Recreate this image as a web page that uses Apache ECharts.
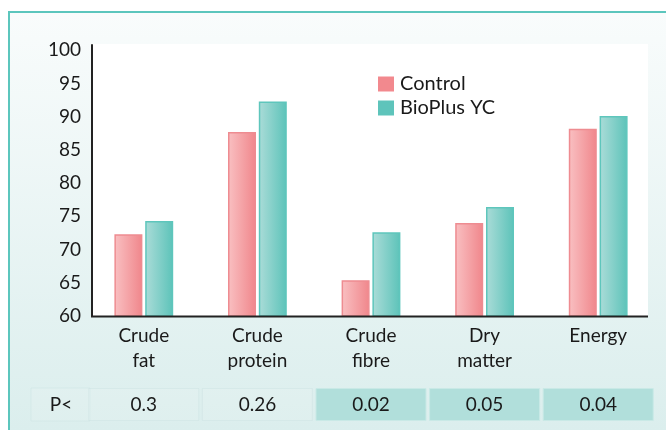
<!DOCTYPE html>
<html>
<head>
<meta charset="utf-8">
<script src="https://cdn.jsdelivr.net/npm/echarts@6/dist/echarts.min.js"></script>
<style>
html,body{margin:0;padding:0;background:#fff;}
#chart{width:666px;height:430px;}
</style>
</head>
<body>
<div id="chart"></div>
<script>
const categories = ['Crude\nfat', 'Crude\nprotein', 'Crude\nfibre', 'Dry\nmatter', 'Energy'];
const controlValues = [72.3, 87.7, 65.4, 74.0, 88.2];
const bioplusValues = [74.3, 92.3, 72.6, 76.4, 90.1];
const pValues = ['0.3', '0.26', '0.02', '0.05', '0.04'];
const pShaded = [false, false, true, true, true];
const seriesNames = ['Control', 'BioPlus YC'];
const yTicks = [60, 65, 70, 75, 80, 85, 90, 95, 100];

const FONT = 'Lato';
const TXT = '#1a1a1a';
const chart = echarts.init(document.getElementById('chart'), null, {renderer: 'canvas'});

function grad(c1, c2) {
  return new echarts.graphic.LinearGradient(0, 0, 1, 0, [
    {offset: 0, color: c1}, {offset: 1, color: c2}
  ]);
}

const option = {
  animation: false,
  textStyle: {fontFamily: FONT},
  graphic: [
    {type: 'rect', z: -10, silent: true,
     shape: {x: 8, y: 11, width: 658, height: 419},
     style: {fill: new echarts.graphic.LinearGradient(0, 0, 0, 1, [
       {offset: 0, color: '#f9fcfc'}, {offset: 1, color: '#dbeeed'}])}},
    {type: 'line', z: -9, silent: true,
     shape: {x1: 8, y1: 12, x2: 666, y2: 12},
     style: {stroke: '#5cc6bd', lineWidth: 2}},
    {type: 'line', z: -9, silent: true,
     shape: {x1: 9, y1: 11, x2: 9, y2: 430},
     style: {stroke: '#5cc6bd', lineWidth: 2}},
    {type: 'rect', z: -8, silent: true,
     shape: {x: 92, y: 44, width: 556, height: 272},
     style: {fill: '#ffffff'}},
    {type: 'line', z: 50, silent: true,
     shape: {x1: 91, y1: 316.5, x2: 648, y2: 316.5},
     style: {stroke: '#222', lineWidth: 2}},
    {type: 'rect', z: -5, silent: true,
     shape: {x: 31, y: 388, width: 59, height: 33},
     style: {fill: 'rgba(255,255,255,0.1)', stroke: 'rgba(205,228,227,0.5)', lineWidth: 1}},
    {type: 'text', z: 10, silent: true,
     style: {text: 'P<', x: 61, y: 405, align: 'center', verticalAlign: 'middle',
             font: '19px Lato', fill: TXT}}
  ],
  legend: {
    orient: 'vertical',
    left: 373, top: 69,
    itemWidth: 16, itemHeight: 15, itemGap: 4,
    icon: 'rect',
    textStyle: {fontFamily: FONT, fontSize: 20, color: TXT, padding: [0, 0, 0, 1]},
    data: [
      {name: seriesNames[0], itemStyle: {color: '#f2898e', borderWidth: 0}},
      {name: seriesNames[1], itemStyle: {color: '#5ec4bb', borderWidth: 0}}
    ]
  },
  grid: [
    {left: 87, right: 11, top: 45, bottom: 114, containLabel: false},
    {left: 87, right: 11, top: 388, height: 33, containLabel: false}
  ],
  xAxis: [
    {type: 'category', gridIndex: 0, data: categories,
     axisLine: {show: false}, axisTick: {show: false},
     axisLabel: {fontFamily: FONT, fontSize: 19, color: TXT, lineHeight: 25, margin: 7}},
    {type: 'category', gridIndex: 1, data: categories, show: false}
  ],
  yAxis: [
    {type: 'value', gridIndex: 0, min: 60, max: 100.8, interval: 5, offset: -5,
     splitLine: {show: false}, axisTick: {show: false},
     axisLine: {show: true, lineStyle: {color: '#222', width: 2}},
     axisLabel: {fontFamily: FONT, fontSize: 19, color: TXT, margin: 11,
       formatter: v => (yTicks.indexOf(v) >= 0 ? String(v) : '')}},
    {type: 'value', gridIndex: 1, min: 0, max: 1, show: false}
  ],
  series: [
    {name: seriesNames[0], type: 'bar', xAxisIndex: 0, yAxisIndex: 0,
     data: controlValues, barWidth: 28, barGap: '10%',
     itemStyle: {color: grad('#f9c0c2', '#f0868b'), borderColor: '#ee8c91', borderWidth: 1.5}},
    {name: seriesNames[1], type: 'bar', xAxisIndex: 0, yAxisIndex: 0,
     data: bioplusValues, barWidth: 28, barGap: '10%',
     itemStyle: {color: grad('#abdcd8', '#5cc3b9'), borderColor: '#5ec6bc', borderWidth: 1.5}},
    {name: 'P', type: 'bar', xAxisIndex: 1, yAxisIndex: 1,
     barWidth: 111, silent: true,
     data: pValues.map((p, i) => ({
       value: 1,
       itemStyle: pShaded[i]
         ? {color: '#b1dfdb', borderColor: '#c9e9e6', borderWidth: 1}
         : {color: 'rgba(255,255,255,0.1)', borderColor: 'rgba(205,228,227,0.5)', borderWidth: 1}
     })),
     label: {show: true, position: 'inside', fontFamily: FONT, fontSize: 19, color: TXT,
       formatter: p => pValues[p.dataIndex]}}
  ]
};
chart.setOption(option);
</script>
</body>
</html>
